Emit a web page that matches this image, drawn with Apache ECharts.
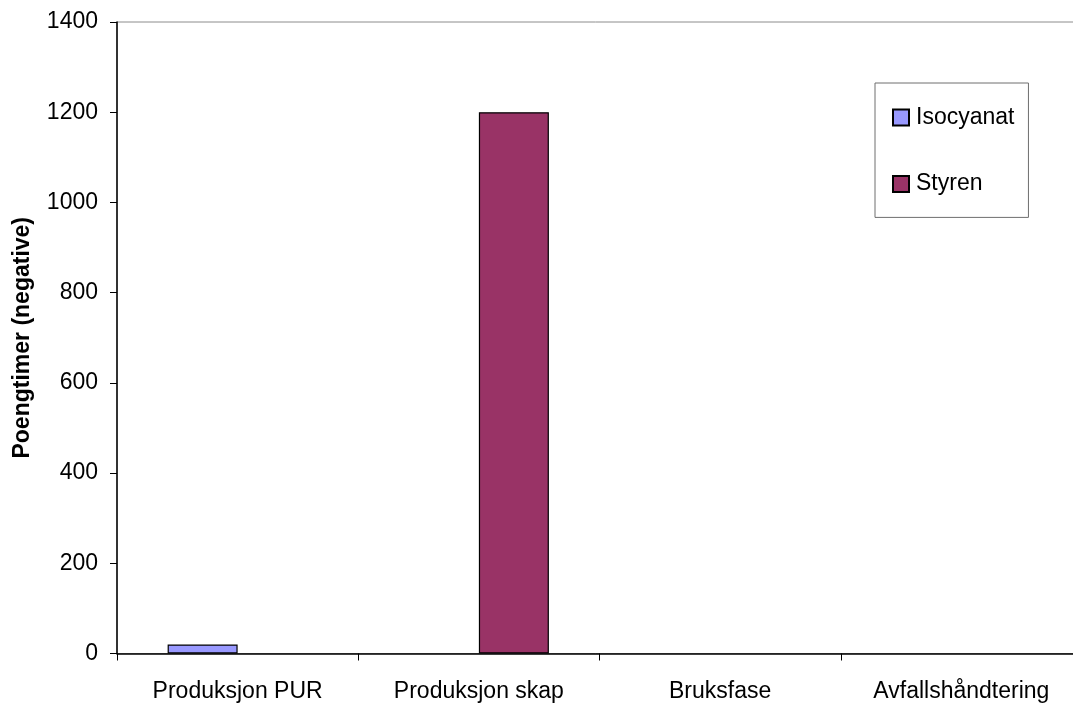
<!DOCTYPE html>
<html>
<head>
<meta charset="utf-8">
<script src="https://cdn.jsdelivr.net/npm/echarts@6/dist/echarts.min.js"></script>
<style>
html,body{margin:0;padding:0;background:#fff;}
#chart{width:1073px;height:706px;}
</style>
</head>
<body>
<div id="chart"></div>
<script>
const categories = ['Produksjon PUR', 'Produksjon skap', 'Bruksfase', 'Avfallshåndtering'];
const isocyanat = [20, 0, 0, 0];
const styren = [0, 1200, 0, 0];
const yTicks = [0, 200, 400, 600, 800, 1000, 1200, 1400];

const chart = echarts.init(document.getElementById('chart'));
const font = 'Arial, "Liberation Sans", sans-serif';
const hideZero = arr => arr.map(v => (v === 0 ? null : v));
chart.setOption({
  animation: false,
  backgroundColor: '#ffffff',
  textStyle: { fontFamily: font, color: '#000' },
  grid: {
    left: 117, top: 22, width: 965, height: 631.5,
    outerBoundsMode: 'none',
    containLabel: false,
    show: true, borderColor: '#8c8c8c', borderWidth: 1, backgroundColor: 'transparent'
  },
  legend: {
    orient: 'vertical',
    left: 875, top: 83,
    padding: [23, 14, 22, 17],
    borderColor: '#6e6e6e', borderWidth: 1,
    itemWidth: 16, itemHeight: 16, itemGap: 43.4,
    icon: 'rect',
    textStyle: { fontFamily: font, fontSize: 23, color: '#000', lineHeight: 16, padding: [0, 0, 0, 2] },
    data: ['Isocyanat', 'Styren']
  },
  xAxis: {
    type: 'category',
    data: categories,
    axisLine: { lineStyle: { color: '#000', width: 1.5 } },
    axisTick: { show: true, length: 7, lineStyle: { color: '#000' } },
    axisLabel: { fontFamily: font, fontSize: 23, color: '#000', margin: 27, interval: 0 }
  },
  yAxis: {
    type: 'value',
    min: 0, max: yTicks[yTicks.length - 1], interval: yTicks[1] - yTicks[0],
    name: 'Poengtimer (negative)',
    nameLocation: 'middle',
    nameGap: 82.5,
    nameMoveOverlap: false,
    nameTextStyle: { fontFamily: font, fontSize: 23, fontWeight: 'bold', color: '#000' },
    axisLine: { show: true, lineStyle: { color: '#000', width: 1.5 } },
    axisTick: { show: true, length: 7, lineStyle: { color: '#000' } },
    axisLabel: { fontFamily: font, fontSize: 23, color: '#000', margin: 19, formatter: v => String(v) },
    splitLine: { show: false }
  },
  series: [
    {
      name: 'Isocyanat', type: 'bar', data: hideZero(isocyanat),
      barWidth: 70, barGap: '0%',
      itemStyle: { color: '#9999FF', borderColor: '#000', borderWidth: 1.2 }
    },
    {
      name: 'Styren', type: 'bar', data: hideZero(styren),
      barWidth: 70, barGap: '0%',
      itemStyle: { color: '#993366', borderColor: '#000', borderWidth: 1.2 }
    }
  ]
});
</script>
</body>
</html>
